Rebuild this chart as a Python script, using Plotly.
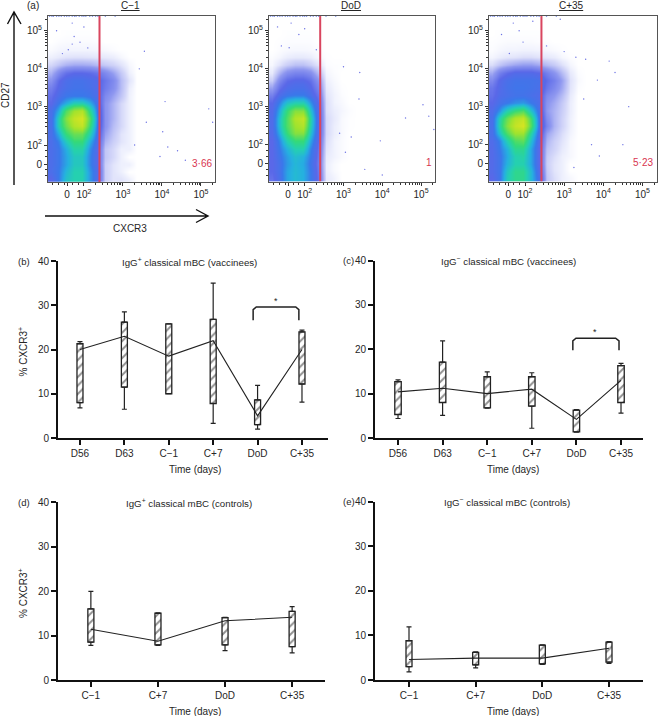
import plotly.graph_objects as go

W, H = 658, 716
FONT = "Liberation Sans"
INK = "#262626"

# ---------- flow panels: hand-read density grids (rows bottom to top, y 1.1 .. 4.9 decades)
flow_x0, flow_dx = 1.15, 0.2
flow_y0, flow_dy = 1.1, 0.2
flow_c1 = [
    [2,3,4.5,5,5,3.5,2.2,.4,.2,.2,.1,0,0],
    [2.4,3,4.2,5,5,3.5,2.2,.4,.2,.1,0,0,0],
    [2.4,2.9,3.8,4.7,4.7,3.2,2,.4,.2,.1,.1,0,0],
    [2.4,2.9,3.8,4.7,4.7,3.2,2,.5,.3,.1,0,0,0],
    [2.4,2.9,4,5.2,5.2,3.4,2,.5,.3,.1,.1,0,0],
    [2.4,3.2,4.8,6,6,4,2.2,.7,.4,.2,.1,0,0],
    [2.5,4,6,7,7,5,2.5,.9,.5,.2,.1,0,0],
    [2.5,5,7,8.5,9,6,2.8,1.1,.6,.3,.1,0,0],
    [2.5,5,7.5,9,9.5,6.5,3,1.1,.7,.3,.1,0,0],
    [2.5,4,6.5,8,8.5,5.5,2.8,1.1,.7,.3,.1,0,0],
    [2,3,4,5,5,4,2.5,1.1,.7,.3,.1,0,0],
    [1.8,2.4,2.9,3,3,2.8,2.3,1.3,.9,.5,.1,0,0],
    [1.5,2.1,2.5,2.7,2.7,2.5,2.2,1.6,1.2,.6,.12,0,0],
    [1.1,1.9,2.4,2.6,2.6,2.4,2.2,1.7,1.3,.6,.2,0,0],
    [.7,1.3,1.8,2,2,1.9,1.7,1.3,.9,.45,.1,0,0],
    [.3,.5,.7,.8,.8,.75,.6,.45,.35,.2,.05,0,0],
    [.1,.15,.2,.22,.22,.2,.18,.15,.12,.05,0,0,0],
    [.03,.06,.07,.07,.07,.07,.06,.04,.02,0,0,0,0],
    [0,.02,.03,.03,.03,.03,.02,0,0,0,0,0,0],
    [0,0,.01,.01,.01,.01,0,0,0,0,0,0,0],
]
flow_dod = [
    [1.8,2.5,3.8,4.3,4,3,1.8,.15,.08,0,0,0,0],
    [2,2.6,3.8,4.3,4,3,1.7,.12,.04,0,0,0,0],
    [2,2.6,3.6,4.2,3.9,2.8,1.6,.12,.04,0,0,0,0],
    [2,2.8,3.7,4.4,4.1,3,1.7,.15,.08,.03,0,0,0],
    [2,3,4.1,5,5,3.2,1.8,.2,.08,.03,0,0,0],
    [2,3.3,5,6,6,3.8,2,.25,.08,.03,0,0,0],
    [2.2,4,6,7.5,7.5,4.5,2.2,.3,.12,.04,0,0,0],
    [2.3,4.5,6.5,8,8.5,5,2.3,.3,.12,.04,.01,0,0],
    [2.3,4.5,6.5,8.5,9,5.2,2.3,.3,.15,.04,.01,0,0],
    [2.2,4,6,7.5,7.5,4.5,2.2,.25,.12,.06,.02,0,0],
    [2,3.2,4.5,5,5,3.5,2,.25,.08,.04,0,0,0],
    [1.5,2.4,2.9,3.1,3.1,2.5,1.7,.2,.08,.02,0,0,0],
    [.9,1.8,2.3,2.5,2.5,2.1,1.4,.15,.06,.01,0,0,0],
    [.4,1.3,1.9,2.1,2.1,1.8,1.1,.1,.04,0,0,0,0],
    [.15,.7,1.2,1.4,1.4,1.2,.6,.06,.02,0,0,0,0],
    [.05,.2,.4,.55,.55,.4,.2,.02,.01,.01,0,0,0],
    [.02,.06,.12,.15,.15,.12,.05,.01,0,0,0,0,0],
    [0,.02,.04,.05,.05,.04,.02,0,0,0,0,0,0],
    [0,.01,.02,.02,.02,.02,0,0,0,0,0,0,0],
    [0,0,.01,.01,.01,.01,0,0,0,0,0,0,0],
]
flow_c35 = [
    [2,2.8,4.8,5.6,5.6,4.2,2.5,.5,.25,.1,.05,0,0],
    [2.2,2.8,4.6,5.6,5.6,4.2,2.2,.45,.2,.1,0,0,0],
    [2.2,2.8,4.1,5,5,3.8,2,.4,.2,.1,0,0,0],
    [2.2,2.8,3.9,5,5.2,3.8,2,.45,.25,.1,.05,0,0],
    [2.2,3,4.1,5.6,5.6,3.8,2,.55,.35,.15,.05,0,0],
    [2.3,3.2,5,6.5,6.8,4.4,2.2,.7,.4,.2,.05,0,0],
    [2.5,4.5,6.5,8,8,5.2,2.5,.9,.55,.25,.08,0,0],
    [2.5,5.2,7.5,9,9.5,6.5,2.8,1.4,.7,.35,.1,0,0],
    [2.5,5,7,8.5,9,6.2,2.8,1.2,.7,.35,.1,0,0],
    [2.3,3.5,5,6,6.5,4.5,2.6,1,.7,.4,.12,0,0],
    [2,2.6,3,3.4,3.6,3,2.4,1.1,.8,.45,.12,0,0],
    [1.8,2.3,2.5,2.7,2.7,2.5,2.3,1.3,1,.6,.15,0,0],
    [1.7,2.2,2.6,2.8,2.8,2.7,2.5,1.7,1.3,.8,.2,.02,0],
    [1.3,2.1,2.5,2.7,2.7,2.7,2.6,1.9,1.5,.9,.22,.04,0],
    [.8,1.5,1.9,2.2,2.2,2.2,2,1.5,1.1,.6,.15,.02,0],
    [.25,.5,.7,.85,.95,.95,.8,.6,.45,.22,.06,0,0],
    [.06,.12,.17,.2,.25,.25,.2,.17,.13,.05,.01,0,0],
    [.02,.05,.07,.07,.08,.08,.07,.05,.03,.01,0,0,0],
    [.01,.02,.03,.03,.03,.03,.02,.01,0,0,0,0,0],
    [0,.01,.01,.01,.01,.01,.01,0,0,0,0,0,0],
]
flow_titles = ["C−1", "DoD", "C+35"]
flow_gate_labels = ["3·66", "1", "5·23"]
flow_gate_x = [2.40, 2.40, 2.42]
flow_sets = [flow_c1, flow_dod, flow_c35]
flow_tickvals_x = [1.57, 2, 3, 4, 5]
flow_tickvals_y = [1.5, 2, 3, 4, 5]
flow_ticktext = ["0", "10<sup>2</sup>", "10<sup>3</sup>", "10<sup>4</sup>", "10<sup>5</sup>"]
flow_minor = [1.2, 1.35, 1.5, 1.7, 1.85, 2.3, 2.48, 2.6, 2.7, 2.78, 2.85, 2.9, 2.95,
              3.3, 3.48, 3.6, 3.7, 3.78, 3.85, 3.9, 3.95,
              4.3, 4.48, 4.6, 4.7, 4.78, 4.85, 4.9, 4.95, 5.3]
flow_sparse_x = [
    [3.55, 4.08, 3.42, 4.02, 3.95, 4.15, 4.4, 4.6, 5.2, 5.3, 3.3, 3.6, 2.0, 1.75, 1.9, 1.6, 1.7, 1.3, 1.45, 2.1, 1.7],
    [3.42, 4.6, 3.95, 3.4, 3.2, 3.05, 4.0, 5.05, 5.33, 5.2, 2.9, 3.0, 1.65, 1.85, 1.4, 1.6, 2.0, 1.3, 2.3, 3.55],
    [3.55, 4.15, 4.3, 3.85, 3.5, 4.65, 4.5, 3.7, 3.9, 3.25, 3.3, 1.85, 1.7, 1.4, 1.6, 1.95, 2.2, 2.55, 2.9, 3.0],
]
flow_sparse_y = [
    [4.46, 3.14, 4.0, 2.35, 1.7, 1.95, 1.85, 1.6, 2.95, 2.6, 2.0, 2.6, 5.1, 4.85, 4.7, 4.5, 4.65, 5.0, 4.4, 4.55, 5.2],
    [3.9, 2.7, 2.1, 3.2, 2.2, 1.8, 1.2, 3.05, 2.4, 2.75, 2.3, 4.05, 5.2, 4.9, 4.6, 4.55, 5.05, 5.1, 4.5, 1.35],
    [4.25, 4.2, 3.9, 3.7, 3.2, 3.0, 2.0, 2.0, 1.7, 1.4, 4.3, 5.0, 5.2, 4.9, 4.4, 4.7, 5.25, 4.6, 5.3, 4.45],
]
flow_top_edge_x = [1.12, 1.18, 1.22, 1.3, 1.36, 1.42, 1.5, 1.56, 1.62, 1.7, 1.76, 1.8, 1.88, 1.95, 2.0, 2.05, 2.15, 2.22, 2.3, 2.36, 2.55, 2.8]

# ---------- time-course panels
cat_b = ["D56", "D63", "C−1", "C+7", "DoD", "C+35"]
med_b = [20, 23, 18.5, 22, 5, 20]
q1_b = [8, 11.5, 10, 7.8, 3, 12.2]
q3_b = [21.3, 26.2, 25.8, 26.8, 8.6, 24]
lo_b = [6.8, 6.5, 10, 3.3, 2, 8.1]
hi_b = [21.8, 28.5, 25.8, 35, 11.9, 24.4]

cat_c = ["D56", "D63", "C−1", "C+7", "DoD", "C+35"]
med_c = [10.4, 11.2, 10, 11, 4.2, 13]
q1_c = [5.3, 8, 6.8, 7.2, 1.4, 8]
q3_c = [12.7, 17.1, 13.8, 13.8, 6.3, 16.3]
lo_c = [4.4, 5.1, 6.7, 2.2, 1.3, 5.6]
hi_c = [13.1, 21.9, 14.9, 14.7, 6.4, 16.8]

cat_d = ["C−1", "C+7", "DoD", "C+35"]
med_d = [11.4, 8.7, 13.3, 14.1]
q1_d = [8.5, 7.9, 7.9, 7.5]
q3_d = [16, 15, 14, 15.4]
lo_d = [7.8, 7.8, 6.6, 6.1]
hi_d = [19.9, 15.1, 14.1, 16.5]

cat_e = ["C−1", "C+7", "DoD", "C+35"]
med_e = [4.6, 4.9, 4.9, 7.1]
q1_e = [3, 3.4, 3.6, 4]
q3_e = [8.8, 6.2, 7.8, 8.5]
lo_e = [1.8, 2.7, 3.5, 3.7]
hi_e = [11.9, 6.3, 7.9, 8.6]

colorscale = [
    [0.0, "#ffffff"], [0.01, "#eef0fd"], [0.03, "#d5d8f9"], [0.1, "#8f98f0"],
    [0.2, "#5a68e8"], [0.3, "#3a78ea"], [0.4, "#25b0e0"], [0.5, "#25d0b0"],
    [0.6, "#35da78"], [0.8, "#9fe32e"], [1.0, "#e8e41e"],
]

fig = go.Figure()
layout = dict(
    width=W, height=H, margin=dict(l=0, r=0, t=0, b=0, autoexpand=False),
    paper_bgcolor="white", plot_bgcolor="white", showlegend=False,
    barmode="overlay", font=dict(family=FONT, size=10, color=INK),
)
annotations, shapes = [], []


def fx(px):
    return px / W


def fy(px):
    return 1 - px / H


def text(px, py, s, size=10, color=INK, angle=0, anchor="center"):
    annotations.append(dict(text=s, x=fx(px), y=fy(py), xref="paper", yref="paper",
                            showarrow=False, font=dict(size=size, color=color, family=FONT),
                            textangle=angle, xanchor=anchor, yanchor="middle"))


def set_axes(i, box, xa, ya):
    xa["domain"] = [fx(box[0]), fx(box[1])]
    ya["domain"] = [fy(box[3]), fy(box[2])]
    xa["anchor"] = f"y{i}"
    ya["anchor"] = f"x{i}"
    layout[f"xaxis{i}"] = xa
    layout[f"yaxis{i}"] = ya


# Flow cytometry panels
flow_boxes = [(48, 215, 15.5, 182), (269, 435, 15.5, 181.5), (489, 656.5, 15.5, 181.5)]
for k, box in enumerate(flow_boxes):
    i = k + 1
    ax = dict(showline=True, linecolor="#555555", linewidth=1, mirror=True, showgrid=False,
              zeroline=False, range=[1.08, 5.36], tickmode="array", tickvals=flow_tickvals_x,
              ticktext=flow_ticktext, ticks="outside", ticklen=3, tickwidth=1, tickcolor="#333333",
              tickfont=dict(size=10, color=INK),
              minor=dict(tickmode="array", tickvals=flow_minor, ticks="outside", ticklen=2,
                         tickwidth=0.7, tickcolor="#333333"))
    ay = dict(showline=True, linecolor="#555555", linewidth=1, mirror=True, showgrid=False,
              zeroline=False, range=[1.03, 5.40], tickmode="array", tickvals=flow_tickvals_y,
              ticktext=flow_ticktext, ticks="outside", ticklen=3, tickwidth=1, tickcolor="#333333",
              tickfont=dict(size=10, color=INK),
              minor=dict(tickmode="array", tickvals=flow_minor, ticks="outside", ticklen=2,
                         tickwidth=0.7, tickcolor="#333333"))
    set_axes(i, box, ax, ay)
    fig.add_trace(go.Heatmap(z=flow_sets[k], x0=flow_x0, dx=flow_dx, y0=flow_y0, dy=flow_dy,
                             zmin=0, zmax=10, colorscale=colorscale, zsmooth="best",
                             showscale=False, xaxis=f"x{i}", yaxis=f"y{i}", hoverinfo="skip"))
    fig.add_trace(go.Scatter(x=flow_sparse_x[k], y=flow_sparse_y[k], mode="markers",
                             marker=dict(size=1.4, color="#6c72e4"), xaxis=f"x{i}", yaxis=f"y{i}"))
    fig.add_trace(go.Scatter(x=flow_top_edge_x, y=[5.38] * len(flow_top_edge_x), mode="markers",
                             marker=dict(size=1.4, color="#7c90ea"), xaxis=f"x{i}", yaxis=f"y{i}"))
    fig.add_trace(go.Scatter(x=[flow_gate_x[k]] * 2, y=[1.03, 5.40], mode="lines",
                             line=dict(color="#d9455f", width=2), xaxis=f"x{i}", yaxis=f"y{i}"))
    text((box[0] + box[1]) / 2 - 1, 5.5, f"<u>{flow_titles[k]}</u>")
    annotations.append(dict(text=flow_gate_labels[k], x=5.33, y=1.52, xref=f"x{i}", yref=f"y{i}",
                            showarrow=False, xanchor="right", yanchor="middle",
                            font=dict(size=10, color="#d8344f", family=FONT)))

# Big axis arrows and labels of the flow row
arrow = dict(color="#111111", width=1.4)
shapes.append(dict(type="path", xref="paper", yref="paper", line=arrow,
                   path=f"M {fx(14)} {fy(185)} L {fx(14)} {fy(12)} M {fx(7.5)} {fy(24)} L {fx(14)} {fy(12)} L {fx(21)} {fy(24)}"))
shapes.append(dict(type="path", xref="paper", yref="paper", line=arrow,
                   path=f"M {fx(45)} {fy(216)} L {fx(208)} {fy(216)} M {fx(196)} {fy(209.5)} L {fx(208)} {fy(216)} L {fx(196)} {fy(222.5)}"))
text(5, 95, "CD27", angle=-90)
text(130, 229, "CXCR3")
text(33, 5.5, "(a)")

# Time-course panels
panels = [
    ("b", (58, 328, 261, 438), [-0.495, 5.586], cat_b, med_b, q1_b, q3_b, lo_b, hi_b, 0.135,
     "IgG<sup>+</sup> classical mBC (vaccinees)", 189, 195),
    ("c", (375, 643, 260.5, 438), [-0.516, 5.493], cat_c, med_c, q1_c, q3_c, lo_c, hi_c, 0.145,
     "IgG<sup>−</sup> classical mBC (vaccinees)", 508, 513),
    ("d", (58, 325, 502, 680), [-0.49, 3.49], cat_d, med_d, q1_d, q3_d, lo_d, hi_d, 0.09,
     "IgG<sup>+</sup> classical mBC (controls)", 189, 195),
    ("e", (375, 643, 501.5, 680), [-0.51, 3.51], cat_e, med_e, q1_e, q3_e, lo_e, hi_e, 0.09,
     "IgG<sup>−</sup> classical mBC (controls)", 507, 513),
]
brackets = {"b": ([3.9, 3.9, 3.97, 4.86, 4.93, 4.93], [26.6, 29, 29.6, 29.6, 29, 26.6], 4.42, 31),
            "c": ([3.92, 3.92, 3.99, 4.88, 4.955, 4.955], [19.8, 21.9, 22.5, 22.5, 21.9, 19.8], 4.42, 23.9)}

for k, (tag, box, xr, cats, med, q1, q3, lo, hi, bw, title, title_x, time_x) in enumerate(panels):
    i = k + 4
    xs = list(range(len(cats)))
    ax = dict(range=xr, showline=True, linecolor="#111111", linewidth=2, showgrid=False,
              zeroline=False, tickmode="array", tickvals=xs, ticktext=cats, ticks="outside",
              ticklen=5, tickwidth=1.5, tickcolor="#111111", tickfont=dict(size=10, color=INK))
    ay = dict(range=[0, 40], showline=True, linecolor="#111111", linewidth=2, showgrid=False,
              zeroline=False, tickmode="array", tickvals=[0, 10, 20, 30, 40], ticks="outside",
              ticklen=5, tickwidth=1.5, tickcolor="#111111", tickfont=dict(size=10, color=INK))
    set_axes(i, box, ax, ay)
    spans = [b - a for a, b in zip(q1, q3)]
    fig.add_trace(go.Bar(x=xs, y=spans, base=q1, width=bw, xaxis=f"x{i}", yaxis=f"y{i}",
                         marker=dict(color="white", line=dict(color="#222222", width=1.3),
                                     pattern=dict(shape="/", fgcolor="#222222", bgcolor="white",
                                                  size=6, solidity=0.32))))
    fig.add_trace(go.Scatter(x=xs, y=q3, mode="markers", marker=dict(size=1, color="rgba(0,0,0,0)"),
                             xaxis=f"x{i}", yaxis=f"y{i}",
                             error_y=dict(type="data", symmetric=False,
                                          array=[b - a for a, b in zip(q3, hi)],
                                          arrayminus=[0] * len(xs), color="#222222", thickness=1.2, width=2.5)))
    fig.add_trace(go.Scatter(x=xs, y=q1, mode="markers", marker=dict(size=1, color="rgba(0,0,0,0)"),
                             xaxis=f"x{i}", yaxis=f"y{i}",
                             error_y=dict(type="data", symmetric=False,
                                          array=[0] * len(xs),
                                          arrayminus=[a - b for a, b in zip(q1, lo)],
                                          color="#222222", thickness=1.2, width=2.5)))
    fig.add_trace(go.Scatter(x=xs, y=med, mode="lines", line=dict(color="#222222", width=1.1),
                             xaxis=f"x{i}", yaxis=f"y{i}"))
    if tag in brackets:
        bx, by, sx, sy = brackets[tag]
        fig.add_trace(go.Scatter(x=bx, y=by, mode="lines", line=dict(color="#222222", width=1.5),
                                 xaxis=f"x{i}", yaxis=f"y{i}"))
        annotations.append(dict(text="*", x=sx, y=sy, xref=f"x{i}", yref=f"y{i}", showarrow=False,
                                font=dict(size=9, color=INK, family=FONT)))
    top = box[2]
    text(title_x, top + 0.5, title, size=9.7)
    text(time_x, box[3] + 31, "Time (days)")
    if box[0] < 100:
        text(24, top, f"({tag})", size=9.5)
        text(23, (top + box[3]) / 2 + 2, "% CXCR3<sup>+</sup>", angle=-90)
    else:
        text(349, top, f"({tag})", size=9.5)

layout["annotations"] = annotations
layout["shapes"] = shapes
fig.update_layout(**layout)
fig.write_html("out.html", config={"displayModeBar": False},
               post_script="document.body.style.margin='0';")
